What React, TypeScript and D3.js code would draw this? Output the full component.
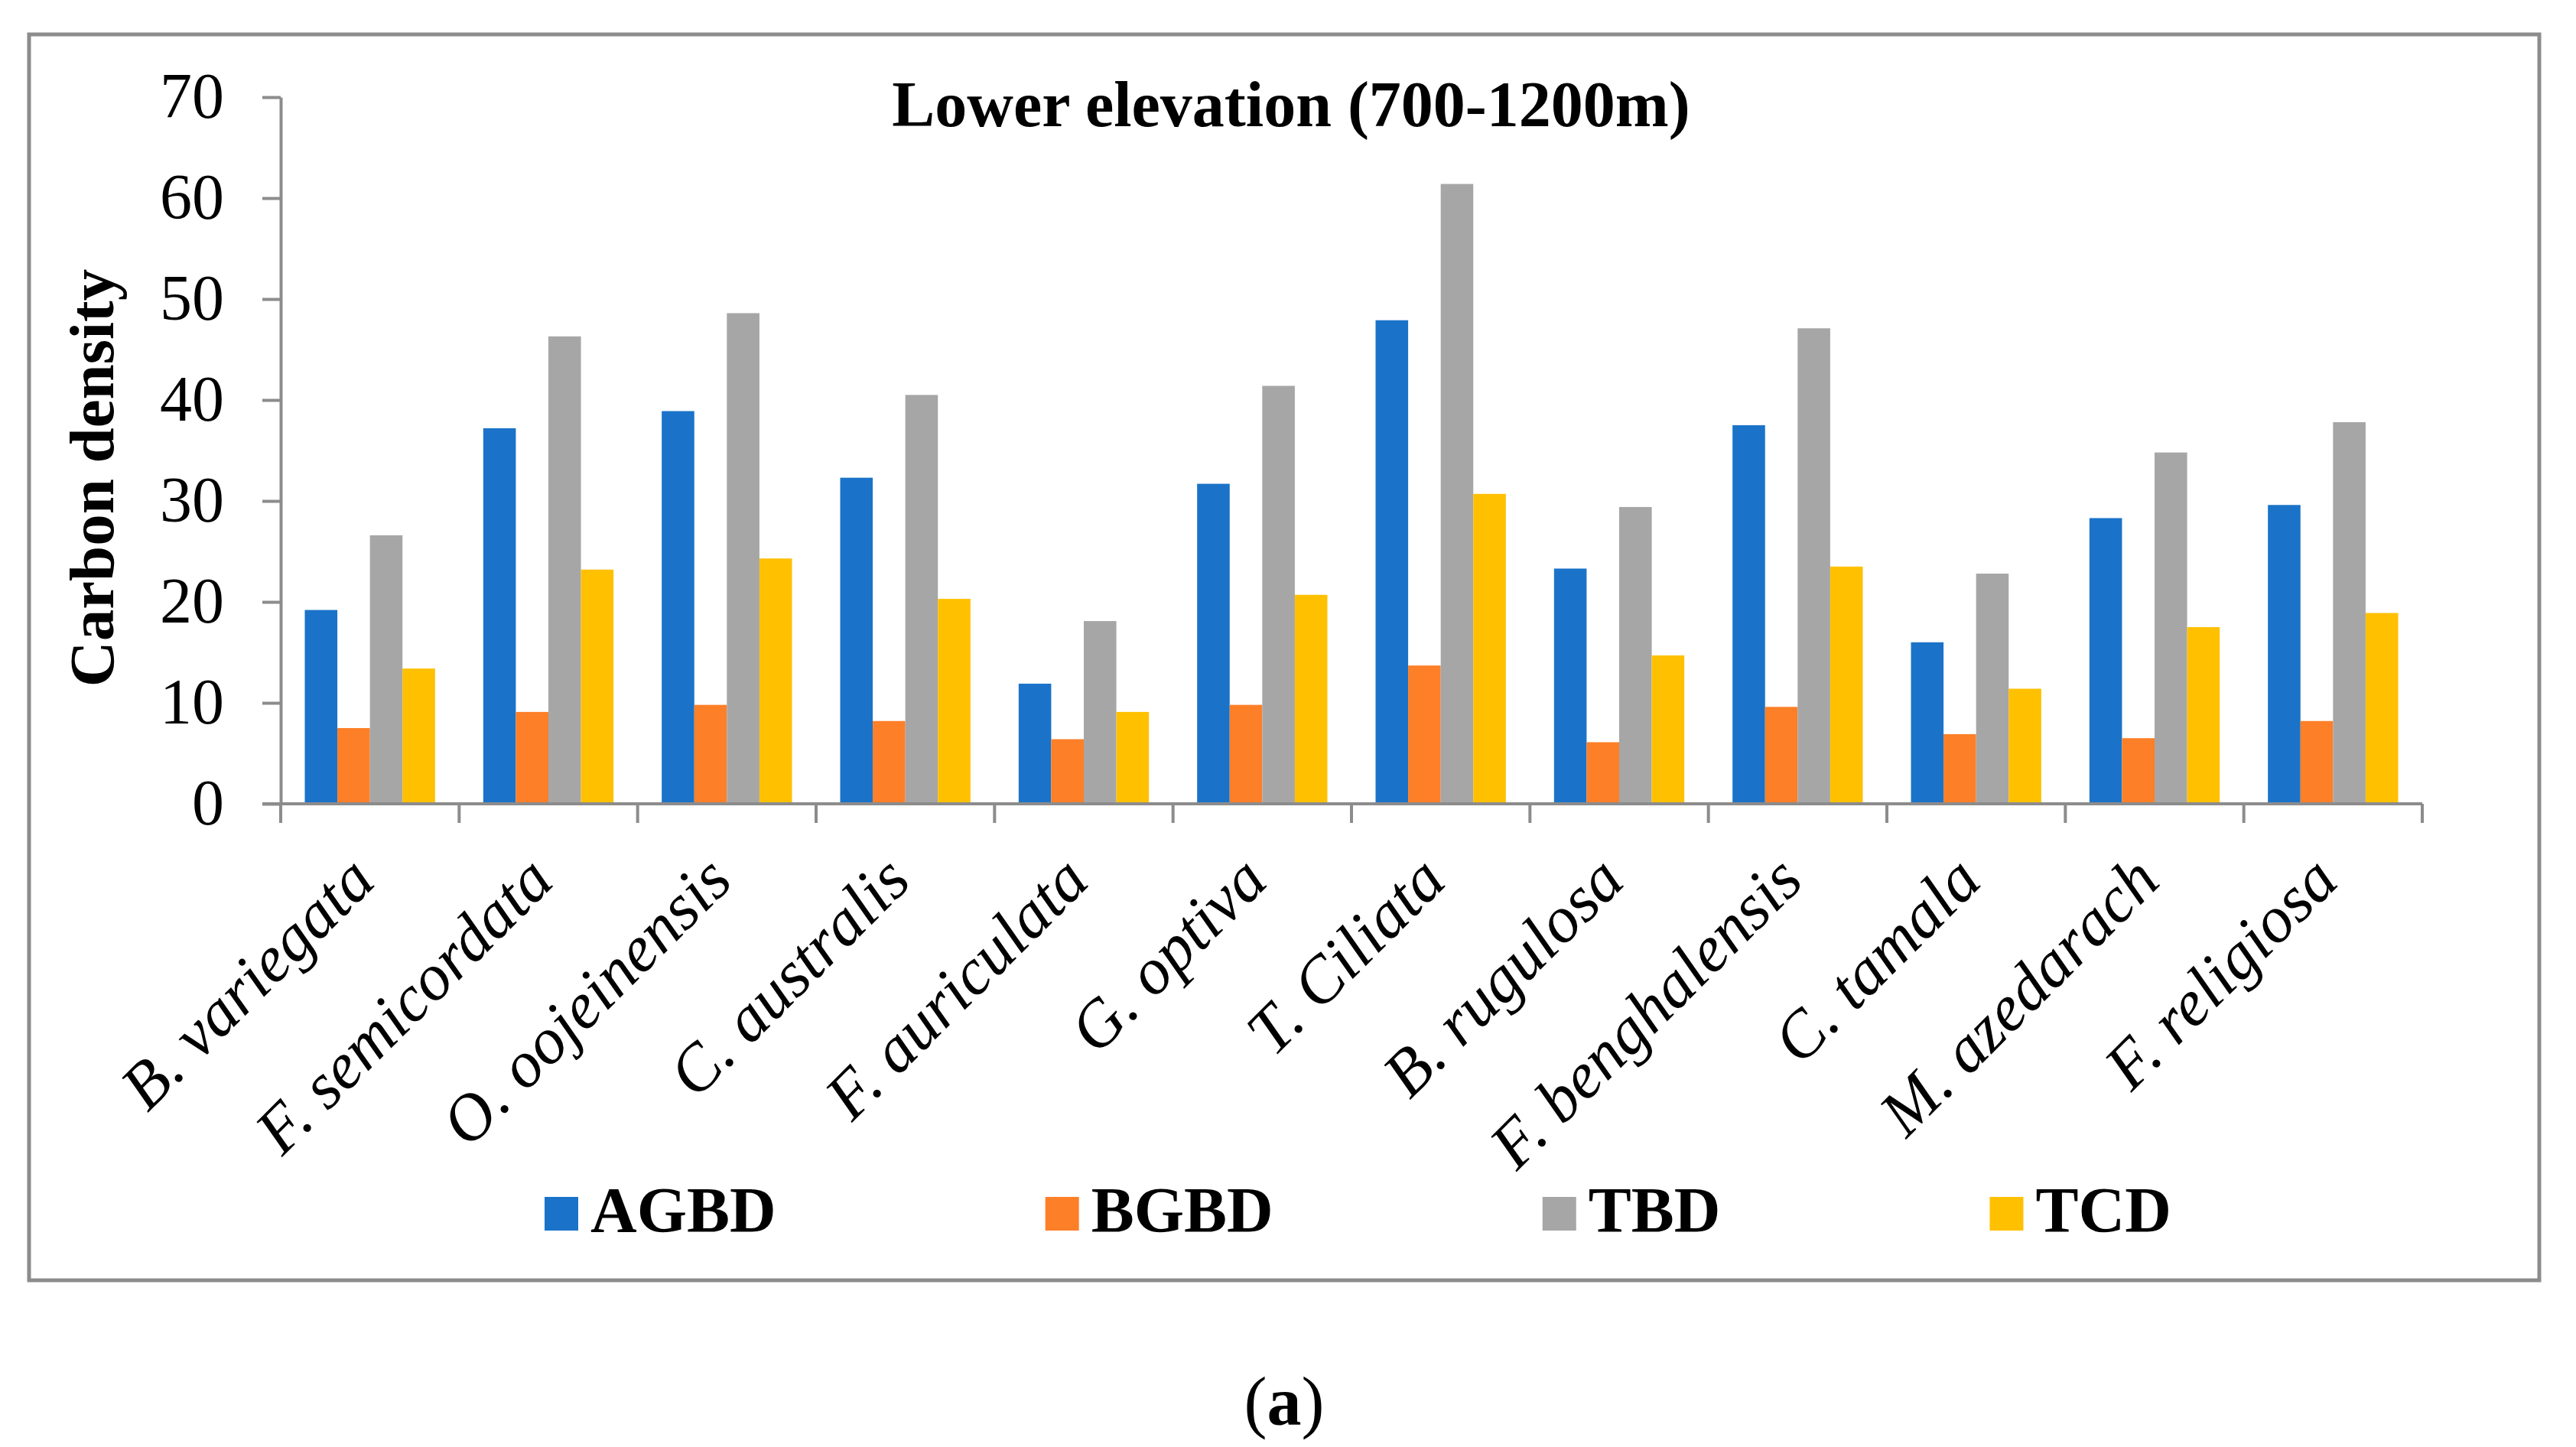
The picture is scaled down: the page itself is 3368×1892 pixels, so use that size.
import React, { useEffect, useRef } from "react";
import * as d3 from "d3";

// species on the x axis
const species = [
  "B. variegata",
  "F. semicordata",
  "O. oojeinensis",
  "C. australis",
  "F. auriculata",
  "G. optiva",
  "T. Ciliata",
  "B. rugulosa",
  "F. benghalensis",
  "C. tamala",
  "M. azedarach",
  "F. religiosa",
];

// series values
const agbd = [19.2, 37.2, 38.9, 32.3, 11.9, 31.7, 47.9, 23.3, 37.5, 16.0, 28.3, 29.6];
const bgbd = [7.5, 9.1, 9.8, 8.2, 6.4, 9.8, 13.7, 6.1, 9.6, 6.9, 6.5, 8.2];
const tbd = [26.6, 46.3, 48.6, 40.5, 18.1, 41.4, 61.4, 29.4, 47.1, 22.8, 34.8, 37.8];
const tcd = [13.4, 23.2, 24.3, 20.3, 9.1, 20.7, 30.7, 14.7, 23.5, 11.4, 17.5, 18.9];

const seriesNames = ["AGBD", "BGBD", "TBD", "TCD"];
const seriesValues = [agbd, bgbd, tbd, tcd];
const seriesColors = ["#1a73c8", "#fd7f28", "#a6a6a6", "#ffc000"];

const yTicks = [0, 10, 20, 30, 40, 50, 60, 70];

const chartTitle = "Lower elevation (700-1200m)";
const yTitle = "Carbon density";

const FONT = "'Liberation Serif', 'Times New Roman', serif";

const W = 3368;
const H = 1892;

export default function App() {
  const svgRef = useRef<SVGSVGElement>(null);

  useEffect(() => {
    document.body.style.margin = "0";
    const svg = d3.select(svgRef.current);
    svg.selectChildren().remove();

    const margin = { left: 367, right: 3167, top: 127, bottom: 1051 };

    svg.append("rect").attr("width", W).attr("height", H).attr("fill", "#fff");

    // outer frame
    svg
      .append("rect")
      .attr("x", 38)
      .attr("y", 45)
      .attr("width", 3320 - 38)
      .attr("height", 1674 - 45)
      .attr("fill", "none")
      .attr("stroke", "#8c8c8c")
      .attr("stroke-width", 5);

    const x0 = d3.scaleBand<string>().domain(species).range([margin.left, margin.right]);
    const bw = x0.bandwidth();
    const x1 = d3
      .scaleBand<string>()
      .domain(seriesNames)
      .range([bw * 0.135, bw * 0.865]);

    const y = d3.scaleLinear().domain([0, 70]).range([margin.bottom, margin.top]);

    // bars
    const groups = svg
      .append("g")
      .selectAll("g")
      .data(species)
      .enter()
      .append("g")
      .attr("transform", (d) => `translate(${x0(d)},0)`);

    groups
      .selectAll("rect")
      .data((d, i) => seriesNames.map((s, k) => ({ s, k, v: seriesValues[k][i] })))
      .enter()
      .append("rect")
      .attr("x", (d) => x1(d.s) as number)
      .attr("width", x1.bandwidth())
      .attr("y", (d) => y(d.v))
      .attr("height", (d) => y(0) - y(d.v))
      .attr("fill", (d) => seriesColors[d.k]);

    // y axis
    const yAxis = svg
      .append("g")
      .attr("transform", `translate(${margin.left},0)`)
      .call(
        d3
          .axisLeft(y)
          .tickValues(yTicks)
          .tickSize(24)
          .tickSizeOuter(0)
          .tickPadding(50)
          .tickFormat((d) => String(d))
      );
    yAxis.select(".domain").attr("stroke", "#8c8c8c").attr("stroke-width", 4);
    yAxis.selectAll(".tick line").attr("stroke", "#8c8c8c").attr("stroke-width", 4);
    yAxis
      .selectAll(".tick text")
      .attr("font-family", FONT)
      .attr("font-size", 84)
      .attr("fill", "#000")
      .attr("dy", "0.32em");

    // x axis line + boundary ticks
    const boundaries = species.map((s) => x0(s) as number).concat([margin.right]);
    svg
      .append("line")
      .attr("x1", margin.left - 24)
      .attr("x2", margin.right)
      .attr("y1", y(0))
      .attr("y2", y(0))
      .attr("stroke", "#8c8c8c")
      .attr("stroke-width", 4);
    svg
      .append("g")
      .selectAll("line")
      .data(boundaries)
      .enter()
      .append("line")
      .attr("x1", (d) => d)
      .attr("x2", (d) => d)
      .attr("y1", y(0))
      .attr("y2", y(0) + 25)
      .attr("stroke", "#8c8c8c")
      .attr("stroke-width", 4);

    // rotated species labels
    svg
      .append("g")
      .selectAll("text")
      .data(species)
      .enter()
      .append("text")
      .attr("transform", (d) => `translate(${(x0(d) as number) + bw / 2 + 10},1155) rotate(-45)`)
      .attr("text-anchor", "end")
      .attr("font-family", FONT)
      .attr("font-style", "italic")
      .attr("font-size", 86)
      .text((d) => d);

    // title
    svg
      .append("text")
      .attr("x", 1688)
      .attr("y", 165)
      .attr("text-anchor", "middle")
      .attr("font-family", FONT)
      .attr("font-weight", "bold")
      .attr("font-size", 84)
      .text(chartTitle);

    // y title
    svg
      .append("text")
      .attr("transform", "translate(148,625) rotate(-90)")
      .attr("text-anchor", "middle")
      .attr("font-family", FONT)
      .attr("font-weight", "bold")
      .attr("font-size", 83)
      .text(yTitle);

    // legend
    const ctx = document.createElement("canvas").getContext("2d");
    const measure = (t: string) => {
      if (!ctx) return t.length * 60;
      ctx.font = `bold 84px ${FONT}`;
      return ctx.measureText(t).width;
    };
    let lx = 712;
    seriesNames.forEach((name, k) => {
      svg
        .append("rect")
        .attr("x", lx)
        .attr("y", 1565)
        .attr("width", 44)
        .attr("height", 44)
        .attr("fill", seriesColors[k]);
      svg
        .append("text")
        .attr("x", lx + 60)
        .attr("y", 1611)
        .attr("font-family", FONT)
        .attr("font-weight", "bold")
        .attr("font-size", 84)
        .text(name);
      lx = lx + 60 + measure(name) + 352;
    });

    // caption
    const cap = svg
      .append("text")
      .attr("x", 1679)
      .attr("y", 1863)
      .attr("text-anchor", "middle")
      .attr("font-family", FONT)
      .attr("font-size", 90);
    cap.append("tspan").attr("font-weight", "normal").text("(");
    cap.append("tspan").attr("font-weight", "bold").text("a");
    cap.append("tspan").attr("font-weight", "normal").text(")");
  }, []);

  return <svg ref={svgRef} width={W} height={H} style={{ display: "block" }} />;
}
